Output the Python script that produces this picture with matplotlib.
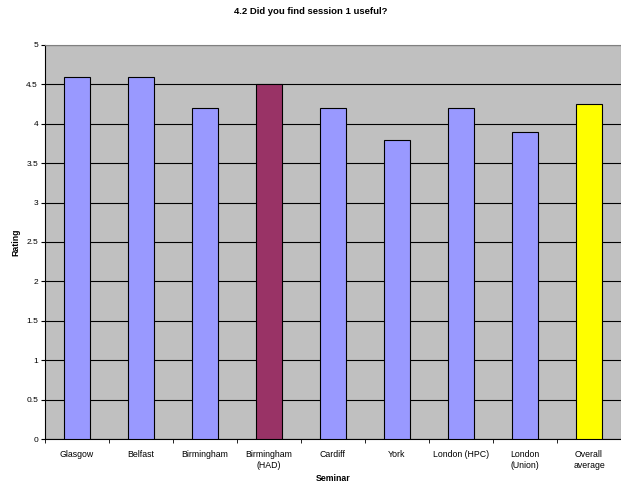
import matplotlib
matplotlib.use("Agg")
import matplotlib.pyplot as plt

plt.rcParams['font.family'] = ['Liberation Sans', 'DejaVu Sans']

seminars = ["Glasgow", "Belfast", "Birmingham", "Birmingham\n(HAD)", "Cardiff",
            "York", "London (HPC)", "London\n(Union)", "Overall\naverage"]
ratings = [4.6, 4.6, 4.2, 4.5, 4.2, 3.8, 4.2, 3.9, 4.25]
colors = ["#9999FF"] * 9
colors[3] = "#993366"
colors[8] = "#FFFF00"
yticks = [0, 0.5, 1, 1.5, 2, 2.5, 3, 3.5, 4, 4.5, 5]

fig = plt.figure(figsize=(6.21, 4.87), dpi=100)
ax = fig.add_axes([45 / 621, 1 - 439 / 487, 576 / 621, 394 / 487])
ax.set_facecolor("#C0C0C0")

x = list(range(len(seminars)))
ax.bar(x, ratings, width=0.4, color=colors, edgecolor="black", linewidth=0.8, zorder=3)

ax.set_xlim(-0.5, len(seminars) - 0.5)
ax.set_ylim(0, 5)
ax.set_yticks(yticks)
ax.set_yticklabels([f"{v:g}" for v in yticks], fontsize=6)
ax.yaxis.grid(True, color="black", linewidth=0.8, zorder=1)
ax.set_xticks(x)
ax.set_xticklabels(seminars, fontsize=6.3, linespacing=1.2)
ax.set_xticks([i - 0.5 for i in range(len(seminars) + 1)], minor=True)
ax.tick_params(axis="x", which="major", length=0, pad=8)
ax.tick_params(axis="x", which="minor", length=3, direction="out", color="black")
ax.tick_params(axis="y", length=3, direction="out", pad=2)

for s in ["top", "right"]:
    ax.spines[s].set_color("#808080")
for s in ["left", "bottom"]:
    ax.spines[s].set_color("black")
    ax.spines[s].set_linewidth(0.8)

ax.set_xlabel("Seminar", fontsize=6.3, fontweight="bold", labelpad=3)
ax.set_ylabel("Rating", fontsize=6.3, fontweight="bold", labelpad=4)
fig.text(0.5, 1 - 12 / 487, "4.2 Did you find session 1 useful?", ha="center", va="center",
         fontsize=6.8, fontweight="bold")

fig.savefig("out.png", dpi=100)
